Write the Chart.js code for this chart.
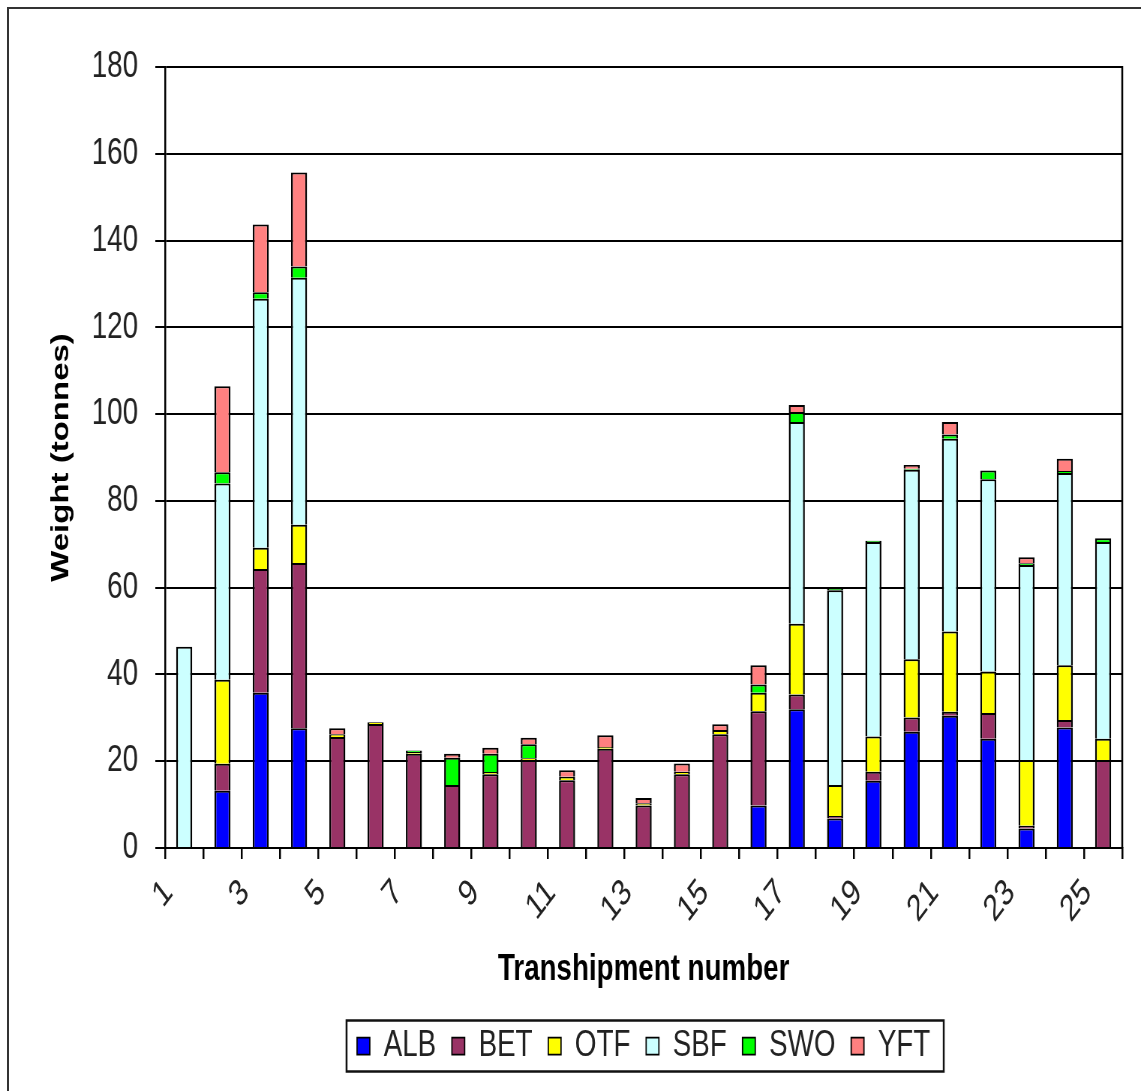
<!DOCTYPE html>
<html><head><meta charset="utf-8">
<script src="https://cdn.jsdelivr.net/npm/chart.js@4.4.1/dist/chart.umd.min.js"></script>
<style>
html,body{margin:0;padding:0;background:#fff;overflow:hidden;width:1141px;height:1091px;}
#frame{position:absolute;left:7px;top:7px;width:1160px;height:1110px;border:2px solid #333;box-sizing:border-box;pointer-events:none;}
#wrap{position:absolute;left:0;top:0;width:1521px;height:1091px;transform:scaleX(0.75016);transform-origin:0 0;}
</style></head><body>
<div id="wrap"><canvas id="c"></canvas></div>
<div id="frame"></div>
<script>
const categories = ['1','2','3','4','5','6','7','8','9','10','11','12','13','14','15','16','17','18','19','20','21','22','23','24','25'];
const ALB = [null,13.2,35.8,27.6,null,null,null,null,null,null,null,null,null,null,null,9.8,32.0,6.8,15.5,26.8,30.5,25.2,4.5,27.8,null];
const BET = [null,6.2,28.5,38.1,25.6,28.6,21.7,14.5,17.0,20.3,15.6,22.9,9.8,17.0,26.2,21.7,3.4,0.6,2.1,3.3,0.9,5.9,0.6,1.7,20.3];
const OTF = [null,19.4,4.9,8.8,0.6,0.4,0.4,null,0.5,0.4,0.8,0.4,0.5,0.6,1.0,4.3,16.3,7.1,8.1,13.4,18.5,9.6,15.2,12.6,4.9];
const SBF = [46.4,45.2,57.4,56.9,null,null,null,null,null,null,null,null,null,null,null,null,46.5,44.9,44.8,43.7,44.4,44.3,44.9,44.3,45.3];
const SWO = [null,2.6,1.5,2.6,null,null,0.4,6.3,4.2,3.2,null,null,null,null,null,1.9,2.3,0.3,0.3,0.2,1.0,2.0,0.4,0.5,0.9];
const YFT = [null,19.8,15.6,21.7,1.4,null,null,0.9,1.4,1.5,1.5,2.7,1.2,1.9,1.3,4.4,1.6,null,null,0.9,2.9,null,1.4,2.8,null];
const yTicks = [0,20,40,60,80,100,120,140,160,180];

const seriesNames = ['ALB','BET','OTF','SBF','SWO','YFT'];
const seriesData = [ALB,BET,OTF,SBF,SWO,YFT];
const seriesColors = ['#0000FF','#993366','#FFFF00','#CCFFFF','#00FF00','#FF8080'];

Chart.defaults.font.family = "'Liberation Sans', Arial, sans-serif";
Chart.defaults.color = '#222';

const plotFrame = {
  id:'plotFrame',
  afterDatasetsDraw(chart){
    const {ctx, chartArea:a} = chart;
    ctx.save(); ctx.strokeStyle='#000'; ctx.lineWidth=2.5;
    ctx.beginPath(); ctx.moveTo(a.right, a.top-1); ctx.lineTo(a.right, a.bottom); ctx.stroke();
    ctx.restore();
  }
};
const legendFrame = {
  id:'legendFrame',
  afterDraw(chart){
    const lg = chart.legend; if(!lg || !lg.legendHitBoxes || !lg.legendHitBoxes.length) return;
    let x0=Infinity,x1=-Infinity,y0=Infinity,y1=-Infinity;
    lg.legendHitBoxes.forEach(b=>{x0=Math.min(x0,b.left);x1=Math.max(x1,b.left+b.width);y0=Math.min(y0,b.top);y1=Math.max(y1,b.top+b.height);});
    const ctx = chart.ctx; ctx.save(); ctx.strokeStyle='#111'; ctx.lineWidth=2.5;
    ctx.strokeRect(x0-14, y0-7, (x1-x0)+32, (y1-y0)+14);
    ctx.restore();
  }
};

new Chart(document.getElementById('c'), {
  type:'bar',
  data:{
    labels: categories,
    datasets: seriesNames.map((n,i)=>({
      label:n, data:seriesData[i], backgroundColor:seriesColors[i],
      borderColor:'#000', borderWidth:{top:2,left:2.5,right:2.5,bottom:0}, borderSkipped:'start',
      barPercentage:0.42, categoryPercentage:1.0
    }))
  },
  options:{
    responsive:true, maintainAspectRatio:false, animation:false,
    layout:{padding:{top:67,right:25,bottom:16.5,left:0}},
    plugins:{
      tooltip:{enabled:false},
      legend:{
        position:'bottom', fullSize:false,
        labels:{font:{size:37}, boxWidth:17, boxHeight:17, padding:21, color:'#222'}
      }
    },
    scales:{
      x:{
        stacked:true,
        afterFit(s){ s.height = 158.5; },
        grid:{display:true, drawOnChartArea:false, drawTicks:true, tickLength:11, offset:true, color:'#000', lineWidth:2.5},
        border:{display:true, color:'#000', width:2},
        ticks:{autoSkip:false, maxRotation:45, minRotation:45, padding:12, labelOffset:-21, font:{size:37}, color:'#222',
          callback(v,i){ return (i%2===0) ? categories[i] : ''; }},
        title:{display:true, text:'Transhipment number', font:{size:37, weight:'bold'}, color:'#000', padding:{top:0,bottom:15}}
      },
      y:{
        stacked:true, min:0, max:180,
        afterFit(s){ s.width = 220; },
        afterBuildTicks(s){ s.ticks = yTicks.map(v=>({value:v})); },
        grid:{color:'#000', lineWidth:2, tickLength:13, drawTicks:true},
        border:{display:true, color:'#000', width:2.5},
        ticks:{padding:23, font:{size:37}, color:'#222'},
        title:{display:true, text:'Weight (tonnes)', font:{size:33, weight:'bold'}, color:'#000', padding:{top:62,bottom:0}}
      }
    }
  },
  plugins:[plotFrame, legendFrame]
});
</script>
</body></html>
